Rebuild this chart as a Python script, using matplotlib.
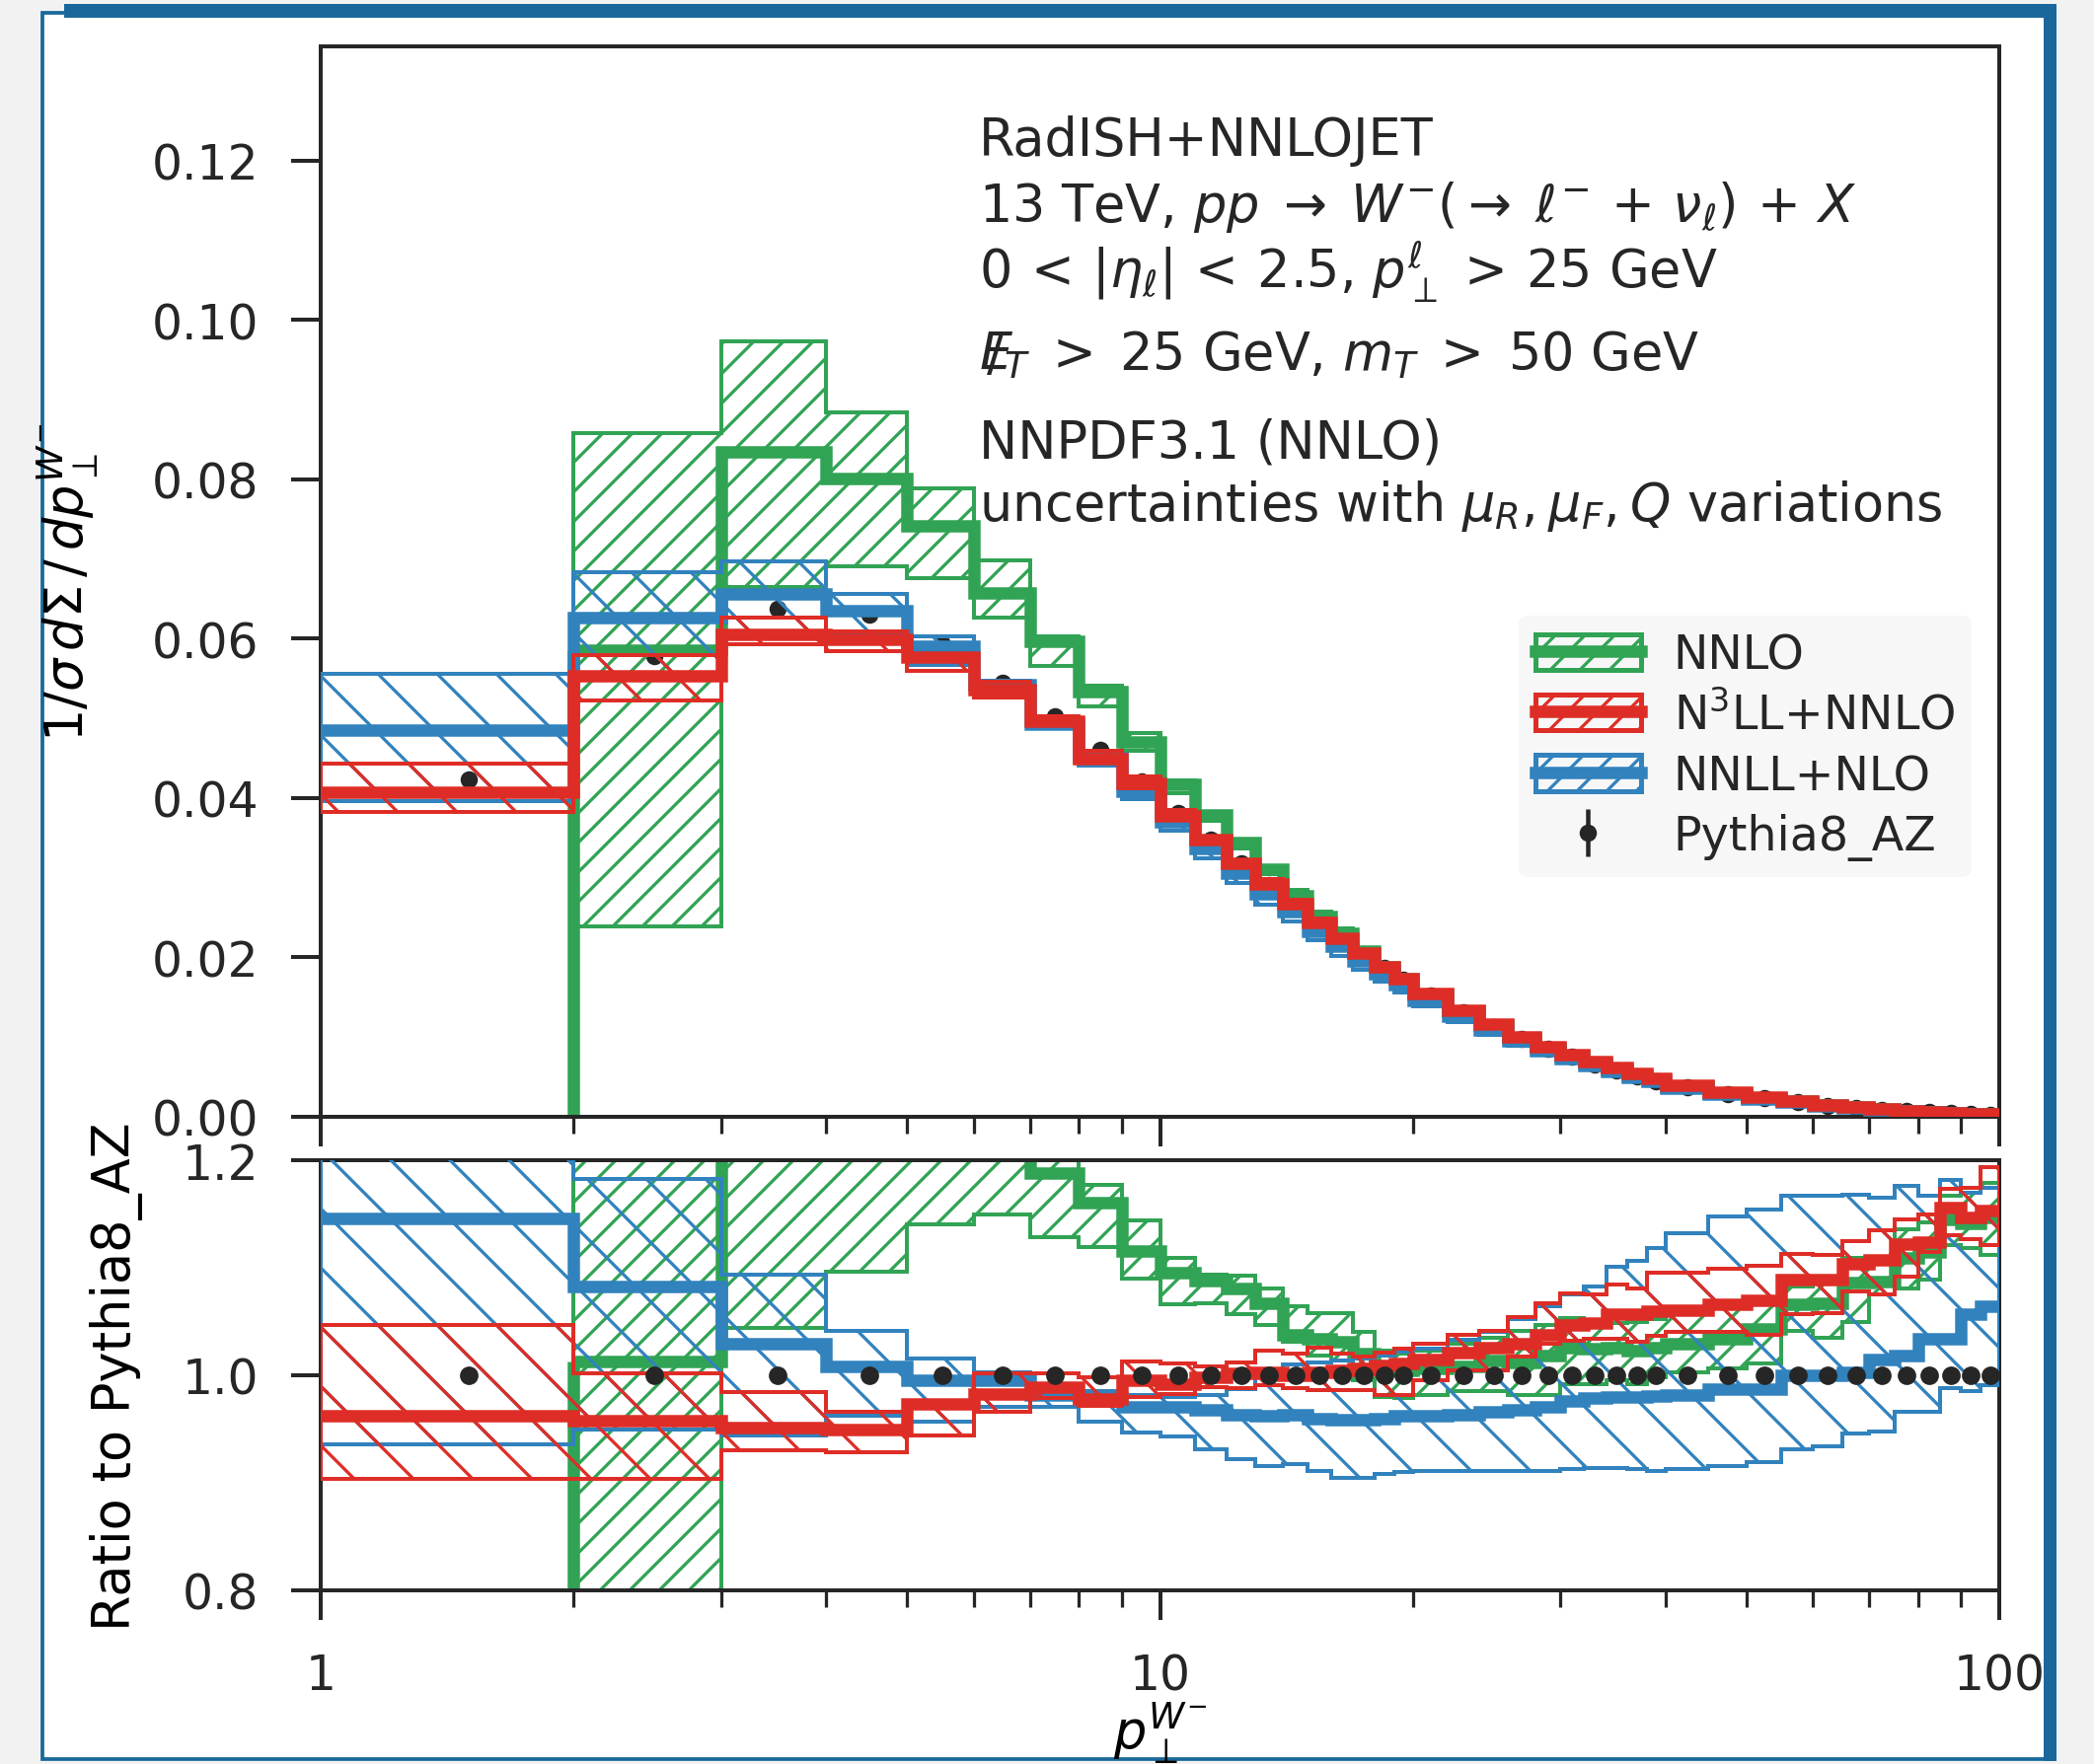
import numpy as np
import matplotlib
matplotlib.use("Agg")
import matplotlib.pyplot as plt
from matplotlib.patches import Patch, Rectangle
from matplotlib.lines import Line2D
from matplotlib.ticker import FixedLocator, FixedFormatter, NullFormatter, FormatStrFormatter

plt.rcParams["font.family"] = ["DejaVu Sans"]
plt.rcParams["mathtext.fontset"] = "dejavusans"
plt.rcParams["hatch.linewidth"] = 1.3
plt.rcParams["axes.linewidth"] = 1.6
plt.rcParams["axes.edgecolor"] = "#262626"
plt.rcParams["text.color"] = "#262626"

# bin edges in p_T^W (GeV)
edges = [1, 2, 3, 4, 5, 6, 7, 8, 9, 10, 11, 12, 13, 14, 15, 16, 17, 18, 19, 20,
         22, 24, 26, 28, 30, 32, 34, 36, 38, 40,
         45, 50, 55, 60, 65, 70, 75, 80, 85, 90, 95, 100]

# Pythia8_AZ reference, 1/sigma dSigma/dpT
pythia = [0.0423, 0.0578, 0.0637, 0.0630, 0.0593, 0.0545, 0.0502, 0.0460, 0.0421,
          0.0381, 0.0348, 0.0318, 0.0291, 0.0267, 0.0243, 0.0223, 0.0204, 0.0187, 0.0172,
          0.0152, 0.0131, 0.0113, 0.0098, 0.0085, 0.0075, 0.0066, 0.0058, 0.0051, 0.0045,
          0.0037, 0.0029, 0.0023, 0.0018, 0.0014, 0.0011, 0.00088, 0.00070, 0.00056,
          0.00045, 0.00036, 0.00029]

# ratios to Pythia8_AZ: central value, lower and upper edge of the band
nnlo_c = [0.0, 1.013, 1.309, 1.271, 1.250, 1.205, 1.188, 1.161, 1.116,
          1.095, 1.088, 1.081, 1.067, 1.038, 1.034, 1.031, 1.020, 1.008, 1.005,
          1.006, 1.008, 1.014, 1.012, 1.018, 1.026, 1.025, 1.026, 1.023, 1.026,
          1.029, 1.034, 1.043, 1.066, 1.067, 1.086, 1.087, 1.109, 1.115, 1.145, 1.141, 1.147]
nnlo_lo = [0.0, 0.413, 1.044, 1.096, 1.140, 1.150, 1.128, 1.119, 1.090,
           1.066, 1.067, 1.057, 1.047, 1.031, 1.018, 1.014, 0.995, 0.980, 0.979,
           0.982, 0.985, 0.985, 0.982, 0.982, 0.992, 0.992, 0.995, 0.992, 0.998,
           1.003, 1.006, 1.011, 1.041, 1.035, 1.050, 1.075, 1.081, 1.089, 1.121, 1.118, 1.112]
nnlo_hi = [0.0, 1.483, 1.528, 1.403, 1.330, 1.280, 1.200, 1.177, 1.144,
           1.109, 1.094, 1.093, 1.081, 1.064, 1.058, 1.058, 1.040, 1.023, 1.020,
           1.023, 1.029, 1.035, 1.041, 1.047, 1.053, 1.047, 1.049, 1.050, 1.052,
           1.057, 1.063, 1.072, 1.083, 1.087, 1.109, 1.105, 1.136, 1.142, 1.167, 1.170, 1.179]

n3ll_c = [0.962, 0.958, 0.951, 0.950, 0.973, 0.983, 0.989, 0.978, 0.995,
          0.992, 0.998, 1.002, 1.003, 1.000, 1.003, 1.005, 1.006, 1.009, 1.011,
          1.015, 1.021, 1.026, 1.029, 1.038, 1.047, 1.049, 1.057, 1.057, 1.060,
          1.061, 1.066, 1.070, 1.089, 1.089, 1.104, 1.107, 1.122, 1.124, 1.156, 1.147, 1.153]
n3ll_lo = [0.904, 0.904, 0.930, 0.928, 0.944, 0.966, 0.979, 0.972, 0.980,
           0.983, 0.989, 0.988, 0.991, 0.988, 0.986, 0.986, 0.986, 0.982, 0.982,
           0.995, 1.005, 1.005, 1.017, 1.029, 1.032, 1.034, 1.034, 1.031, 1.037,
           1.040, 1.040, 1.038, 1.057, 1.058, 1.078, 1.075, 1.092, 1.115, 1.130, 1.127, 1.121]
n3ll_hi = [1.047, 1.002, 0.984, 0.966, 0.976, 1.002, 1.002, 0.998, 1.013,
           1.011, 1.008, 1.012, 1.023, 1.020, 1.026, 1.020, 1.017, 1.021, 1.025,
           1.029, 1.038, 1.041, 1.054, 1.067, 1.076, 1.075, 1.084, 1.081, 1.095,
           1.095, 1.099, 1.102, 1.113, 1.112, 1.125, 1.135, 1.145, 1.150, 1.173, 1.174, 1.194]

nnll_c = [1.146, 1.083, 1.029, 1.008, 0.995, 0.995, 0.982, 0.979, 0.971,
          0.971, 0.968, 0.963, 0.962, 0.963, 0.960, 0.959, 0.959, 0.960, 0.962,
          0.962, 0.963, 0.966, 0.968, 0.971, 0.976, 0.979, 0.980, 0.980, 0.981,
          0.982, 0.987, 0.987, 1.000, 1.000, 1.003, 1.015, 1.018, 1.034, 1.034, 1.057, 1.064]
nnll_lo = [0.936, 0.950, 0.944, 0.962, 0.957, 0.971, 0.971, 0.957, 0.947,
           0.943, 0.931, 0.922, 0.916, 0.917, 0.911, 0.905, 0.905, 0.908, 0.910,
           0.911, 0.911, 0.911, 0.911, 0.911, 0.913, 0.914, 0.914, 0.913, 0.911,
           0.913, 0.916, 0.919, 0.931, 0.934, 0.946, 0.948, 0.966, 0.966, 0.988, 0.985, 0.991]
nnll_hi = [1.313, 1.183, 1.094, 1.041, 1.016, 1.003, 0.986, 0.985, 0.982,
           0.980, 0.982, 0.987, 1.005, 1.010, 1.012, 1.014, 1.016, 1.018, 1.022,
           1.025, 1.033, 1.040, 1.052, 1.064, 1.075, 1.083, 1.101, 1.106, 1.118,
           1.132, 1.148, 1.154, 1.167, 1.167, 1.168, 1.165, 1.176, 1.167, 1.182, 1.170, 1.174]

GREEN, RED, BLUE, DARK = "#31a354", "#de2d26", "#3182bd", "#262626"
LW_CENTRAL = 5.0
LW_BAND = 1.6

e = np.asarray(edges, float)
centers = 0.5 * (e[:-1] + e[1:])
ref = np.asarray(pythia)


def draw_series(ax, c, lo, hi, color, hatch, z):
    c, lo, hi = np.asarray(c), np.asarray(lo), np.asarray(hi)
    i0 = int(np.argmax(hi > 0))  # first bin that has a prediction
    ax.stairs(hi[i0:], e[i0:], baseline=lo[i0:], fill=True, facecolor="none",
              edgecolor=color, hatch=hatch, linewidth=LW_BAND, zorder=z)
    ax.stairs(c[i0:], e[i0:], baseline=None, color=color, linewidth=LW_CENTRAL,
              zorder=z + 0.1)
    if i0 > 0:
        # rising edge out of the empty bin
        ax.plot([e[i0], e[i0]], [c[i0 - 1], c[i0]], color=color, lw=LW_CENTRAL,
                solid_capstyle="butt", zorder=z + 0.1)


W, H = 2122, 1789
fig = plt.figure(figsize=(W / 180, H / 180), dpi=180)
fig.patch.set_facecolor("#f2f2f2")

# slide frame
fig.add_artist(Rectangle((43 / W, 1 - 1784 / H), (2077 - 43) / W, (1784 - 14) / H,
                         transform=fig.transFigure, facecolor="white",
                         edgecolor="#1a689b", lw=1.5, zorder=-2))
fig.add_artist(Rectangle((65 / W, 1 - 19 / H), (2084 - 65) / W, 14 / H,
                         transform=fig.transFigure, facecolor="#1a689b",
                         edgecolor="none", zorder=-1))
fig.add_artist(Rectangle((2071 / W, 1 - 1786 / H), 13 / W, (1786 - 6) / H,
                         transform=fig.transFigure, facecolor="#1a689b",
                         edgecolor="none", zorder=-1))

ax1 = fig.add_axes([325 / W, 1 - 1133 / H, 1701 / W, 1085 / H])
ax2 = fig.add_axes([325 / W, 1 - 1613 / H, 1701 / W, 436 / H], sharex=ax1)

series = [
    (nnlo_c, nnlo_lo, nnlo_hi, GREEN, "//", 2),
    (nnll_c, nnll_lo, nnll_hi, BLUE, "\\", 3),
    (n3ll_c, n3ll_lo, n3ll_hi, RED, "\\", 4),
]

# upper panel: distributions
eb = ax1.errorbar(centers, ref, yerr=np.zeros_like(ref), fmt="o", color=DARK,
                  ms=6, elinewidth=1.8, capsize=0, zorder=1.5)
for c, lo, hi, col, hat, z in series:
    draw_series(ax1, np.asarray(c) * ref, np.asarray(lo) * ref, np.asarray(hi) * ref,
                col, hat, z)

# lower panel: ratios
for c, lo, hi, col, hat, z in series:
    draw_series(ax2, c, lo, hi, col, hat, z)
ax2.errorbar(centers, np.ones_like(ref), yerr=np.zeros_like(ref), fmt="o", color=DARK,
             ms=6.5, elinewidth=1.5, capsize=0, zorder=6)

ax1.set_xscale("log")
ax1.set_xlim(1, 100)
ax1.set_ylim(0, 0.1343)
ax2.set_ylim(0.8, 1.2)
ax1.set_yticks([0.0, 0.02, 0.04, 0.06, 0.08, 0.10, 0.12])
ax1.yaxis.set_major_formatter(FormatStrFormatter("%.2f"))
ax2.set_yticks([0.8, 1.0, 1.2])
ax2.yaxis.set_major_formatter(FormatStrFormatter("%.1f"))
ax2.xaxis.set_major_locator(FixedLocator([1, 10, 100]))
ax2.xaxis.set_major_formatter(FixedFormatter(["1", "10", "100"]))
ax2.xaxis.set_minor_formatter(NullFormatter())
ax1.tick_params(labelbottom=False)

for ax in (ax1, ax2):
    ax.tick_params(which="major", direction="out", length=12, width=1.6, pad=13,
                   labelsize=19.5, color=DARK, labelcolor=DARK)
    ax.tick_params(which="minor", direction="out", length=6.8, width=1.3, color=DARK)
    for sp in ax.spines.values():
        sp.set_linewidth(1.6)

ax1.set_ylabel(r"$1/\sigma\, d\Sigma\, /\, dp_{\perp}^{W^{-}}$", fontsize=21)
ax1.yaxis.set_label_coords(-0.131, 0.5)
ax2.set_ylabel("Ratio to Pythia8_AZ", fontsize=21)
ax2.yaxis.set_label_coords(-0.106, 0.5)
ax2.set_xlabel(r"$p_{\perp}^{W^{-}}$", fontsize=21, labelpad=0)

# annotation block
lines = [
    ("RadISH+NNLOJET", 0.8983),
    (r"13 TeV, $pp \;\rightarrow\; W^{-}(\rightarrow\; \ell^{-} \,+\, \nu_{\ell}) \,+\, X$", 0.8372),
    (r"$0 \,<\, |\eta_{\ell}| \,<\, 2.5$, $p_{\perp}^{\ell} \,>\, 25$ GeV", 0.7748),
    (r"$E\!\!\!/_{T} \;>\; 25$ GeV, $m_{T} \;>\; 50$ GeV", 0.6987),
    ("NNPDF3.1 (NNLO)", 0.6164),
    (r"uncertainties with $\mu_{R}, \mu_{F}, Q$ variations", 0.5578),
]
for txt, yy in lines:
    ax1.text(0.392, yy, txt, transform=ax1.transAxes, fontsize=21, va="baseline",
             ha="left", color=DARK)

# legend
handles = []
for col in (GREEN, RED, BLUE):
    p = Patch(facecolor="none", edgecolor=col, hatch="//", lw=2.0)
    handles.append((p, Line2D([], [], color=col, lw=LW_CENTRAL)))
handles.append(eb)
labels = ["NNLO", r"N$^3$LL+NNLO", "NNLL+NLO", "Pythia8_AZ"]
leg = ax1.legend(handles, labels, loc="lower right", bbox_to_anchor=(0.9835, 0.224),
                 borderaxespad=0, fontsize=19, frameon=True, fancybox=True,
                 facecolor="#f7f7f7", edgecolor="none", framealpha=1,
                 handlelength=2.25, handleheight=0.8, handletextpad=0.7,
                 labelspacing=0.3, borderpad=0.35)
for t in leg.get_texts():
    t.set_color(DARK)

fig.savefig("out.png", dpi=180, facecolor=fig.get_facecolor())
